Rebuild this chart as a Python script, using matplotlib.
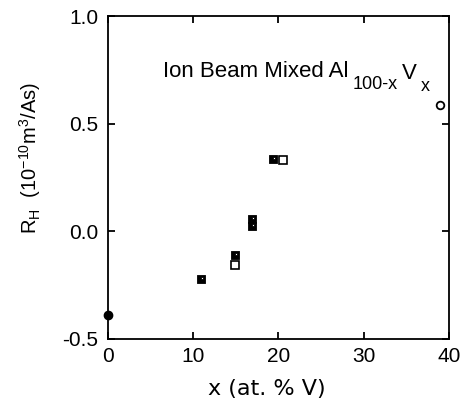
import matplotlib
matplotlib.use("Agg")
import matplotlib.pyplot as plt
from matplotlib.path import Path

# data
pure_al_x = [0.0]
pure_al_rh = [-0.39]

v_rich_x = [38.9]
v_rich_rh = [0.585]

mixed_x = [10.9, 14.9, 16.9, 16.9, 19.4]
mixed_rh = [-0.223, -0.112, 0.059, 0.023, 0.338]

mixed_open_x = [14.9, 20.5]
mixed_open_rh = [-0.155, 0.330]

x_ticks = [0, 10, 20, 30, 40]
y_ticks = [-0.5, 0.0, 0.5, 1.0]
y_tick_labels = ["-0.5", "0.0", "0.5", "1.0"]

plt.rcParams["font.family"] = ["Liberation Sans", "DejaVu Sans"]
plt.rcParams["axes.unicode_minus"] = False
plt.rcParams["mathtext.fontset"] = "custom"
plt.rcParams["mathtext.rm"] = "Liberation Sans"
plt.rcParams["mathtext.it"] = "Liberation Sans:italic"

# square marker with a small white notch (half-filled look)
outer = [(-1, -1), (1, -1), (1, 1), (-1, 1), (-1, -1)]
inner = [(0.05, 0.05), (0.05, 0.55), (0.55, 0.55), (0.55, 0.05), (0.05, 0.05)]
codes = [Path.MOVETO, Path.LINETO, Path.LINETO, Path.LINETO, Path.CLOSEPOLY]
notched_square = Path(outer + inner, codes + codes)

fig = plt.figure(figsize=(4.61, 4.04), dpi=100)
ax = fig.add_axes([0.234, 0.161, 0.740, 0.799])

ax.plot(pure_al_x, pure_al_rh, "o", color="black", markersize=6, clip_on=False, zorder=5)
ax.plot(v_rich_x, v_rich_rh, "o", markerfacecolor="white", markeredgecolor="black",
        markersize=5.5, markeredgewidth=1.3, clip_on=False, zorder=5)
ax.plot(mixed_x, mixed_rh, linestyle="none", marker=notched_square, color="black",
        markersize=6, markeredgewidth=0.6, zorder=4)
ax.plot(mixed_open_x, mixed_open_rh, "s", markerfacecolor="white", markeredgecolor="black",
        markersize=5.5, markeredgewidth=1.2, zorder=4)

ax.set_xlim(0, 40)
ax.set_ylim(-0.5, 1.0)
ax.set_xticks(x_ticks)
ax.set_yticks(y_ticks)
ax.set_yticklabels(y_tick_labels)

ax.tick_params(direction="in", length=5, width=1.3, top=True, right=True,
               labelsize=15)
ax.tick_params(axis="x", pad=6)
ax.tick_params(axis="y", pad=7)
for sp in ax.spines.values():
    sp.set_linewidth(1.3)

ax.set_xlabel("x (at. % V)", fontsize=16, family="DejaVu Sans")
ax.xaxis.set_label_coords(0.465, -0.125)
ax.set_ylabel(r"R$_\mathregular{H}$  (10$^\mathregular{-10}$m$^\mathregular{3}$/As)", fontsize=14.5)
ax.yaxis.set_label_coords(-0.19, 0.56)

# title inside the axes, subscripts chained as separate texts
t_main = ax.text(6.5, 0.716, "Ion Beam Mixed Al", fontsize=16, ha="left", va="baseline")
t_sub1 = ax.annotate("100-x", xy=(1, 0), xycoords=t_main, xytext=(2.5, -5),
                     textcoords="offset points", fontsize=13, va="baseline")
t_v = ax.annotate("V", xy=(1, 0), xycoords=t_sub1, xytext=(3, 10),
                  textcoords="offset points", fontsize=16, va="baseline")
ax.annotate("x", xy=(1, 0), xycoords=t_v, xytext=(3, -5),
            textcoords="offset points", fontsize=13, va="baseline")

fig.savefig("out.png", dpi=100)
